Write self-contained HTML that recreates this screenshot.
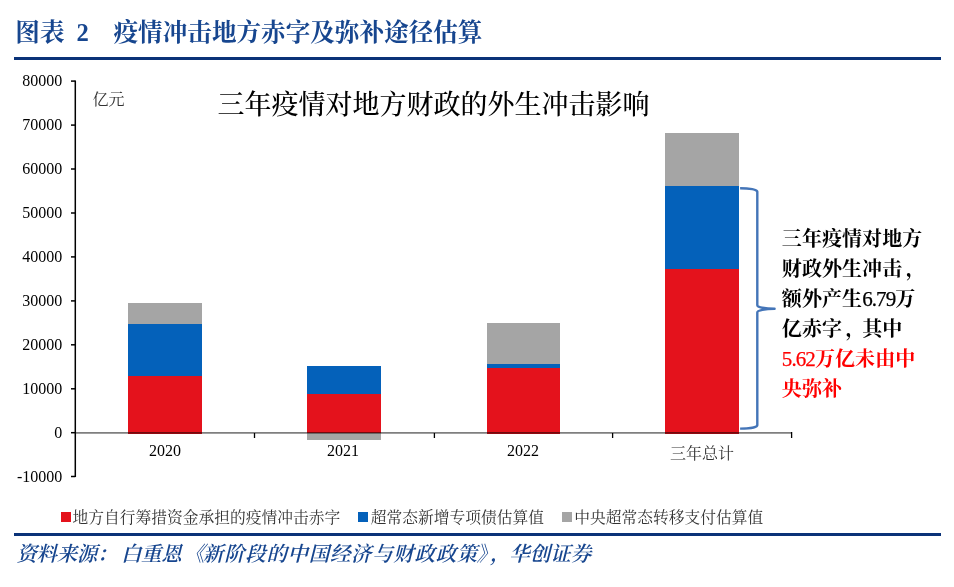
<!DOCTYPE html>
<html lang="zh-CN">
<head>
<meta charset="utf-8">
<title>图表 2 疫情冲击地方赤字及弥补途径估算</title>
<style>
html,body{margin:0;padding:0;background:#fff;}
body{width:954px;height:587px;position:relative;overflow:hidden;font-family:"Liberation Serif","Noto Serif CJK SC",serif;}
.abs{position:absolute;white-space:nowrap;line-height:1;}
.kai{font-family:"Liberation Serif","Noto Serif CJK SC",serif;}
.ttl{color:#17468f;font-weight:700;font-size:24.6px;top:21.3px;height:25px;}
.rule{position:absolute;left:14px;width:927px;height:3px;background:#0a3278;}
.ylab{font-size:16px;color:#000;text-align:right;width:52px;left:10.3px;margin-top:-0.5px;}
.xlab{font-size:16px;color:#000;text-align:center;width:80px;}
.leg{font-size:15.75px;color:#333;top:509.6px;}
.sq{position:absolute;width:10px;height:10px;top:512.4px;}
.ann{font-size:20px;font-weight:700;color:#000;left:781.8px;letter-spacing:0.08px;margin-top:1.2px;}
.ann .c{position:relative;left:3.5px;}
.ann .d{letter-spacing:-0.9px;font-weight:400;font-size:21px;line-height:20px;-webkit-text-stroke:0.25px currentColor;}
.red{color:#ff0000;}
.src{color:#17468f;font-style:italic;font-weight:600;font-size:20.5px;top:544px;}
</style>
</head>
<body>
<!-- header -->
<div class="abs kai ttl" style="left:15.3px;">图表</div>
<div class="abs kai ttl" style="left:76.5px;">2</div>
<div class="abs kai ttl" style="left:113.5px;letter-spacing:0;">疫情冲击地方赤字及弥补途径估算</div>
<div class="rule" style="top:57px;"></div>

<!-- chart graphics -->
<svg class="abs" style="left:0;top:0;" width="954" height="587" viewBox="0 0 954 587">
  <!-- bars -->
  <g shape-rendering="crispEdges">
  <rect x="128.2" y="376.4" width="73.8" height="57.6" fill="#e4121c"/>
  <rect x="128.2" y="323.7" width="73.8" height="52.7" fill="#0461ba"/>
  <rect x="128.2" y="303" width="73.8" height="20.7" fill="#a5a5a5"/>

  <rect x="307.2" y="393.7" width="74.2" height="40.3" fill="#e4121c"/>
  <rect x="307.2" y="365.9" width="74.2" height="27.8" fill="#0461ba"/>
  <rect x="307.2" y="433" width="74.2" height="6.9" fill="#a5a5a5"/>

  <rect x="486.6" y="367.8" width="73.6" height="66.2" fill="#e4121c"/>
  <rect x="486.6" y="363.8" width="73.6" height="4" fill="#0461ba"/>
  <rect x="486.6" y="323.4" width="73.6" height="40.4" fill="#a5a5a5"/>

  <rect x="665.1" y="268.6" width="73.8" height="165.4" fill="#e4121c"/>
  <rect x="665.1" y="186" width="73.8" height="82.6" fill="#0461ba"/>
  <rect x="665.1" y="133" width="73.8" height="53" fill="#a5a5a5"/>
  </g>
  <!-- x axis -->
  <line x1="75" y1="432.8" x2="792" y2="432.8" stroke="#000" stroke-opacity="0.5" stroke-width="1.7"/>
  <g stroke="#000" stroke-width="1.3">
    <line x1="254.5" y1="433" x2="254.5" y2="438"/>
    <line x1="434.4" y1="433" x2="434.4" y2="438"/>
    <line x1="612.6" y1="433" x2="612.6" y2="438"/>
    <line x1="791.6" y1="432" x2="791.6" y2="438"/>
  </g>
  <!-- y axis -->
  <g stroke="#000" stroke-width="1.5">
    <line x1="75.3" y1="80.5" x2="75.3" y2="477"/>
    <line x1="71" y1="81.1" x2="75.3" y2="81.1"/>
    <line x1="71" y1="125.1" x2="75.3" y2="125.1"/>
    <line x1="71" y1="169" x2="75.3" y2="169"/>
    <line x1="71" y1="213" x2="75.3" y2="213"/>
    <line x1="71" y1="256.9" x2="75.3" y2="256.9"/>
    <line x1="71" y1="300.9" x2="75.3" y2="300.9"/>
    <line x1="71" y1="344.8" x2="75.3" y2="344.8"/>
    <line x1="71" y1="388.8" x2="75.3" y2="388.8"/>
    <line x1="71" y1="432.7" x2="75.3" y2="432.7"/>
    <line x1="71" y1="476.5" x2="75.3" y2="476.5"/>
  </g>
  <!-- brace -->
  <path d="M740.1 188.2 A17.2 3.4 0 0 1 757.3 191.6 L757.3 305.2 A17.2 3.6 0 0 0 774.6 308.8 A17.2 3.6 0 0 0 757.3 312.4 L757.3 425.2 A17.2 3.4 0 0 1 740.1 428.6" fill="none" stroke="#4475b8" stroke-width="2.4" stroke-linejoin="round"/>
</svg>

<!-- y labels -->
<div class="abs ylab" style="top:73.5px;">80000</div>
<div class="abs ylab" style="top:117.5px;">70000</div>
<div class="abs ylab" style="top:161.4px;">60000</div>
<div class="abs ylab" style="top:205.4px;">50000</div>
<div class="abs ylab" style="top:249.3px;">40000</div>
<div class="abs ylab" style="top:293.3px;">30000</div>
<div class="abs ylab" style="top:337.2px;">20000</div>
<div class="abs ylab" style="top:381.2px;">10000</div>
<div class="abs ylab" style="top:425.1px;">0</div>
<div class="abs ylab" style="top:469px;">-10000</div>

<!-- x labels -->
<div class="abs xlab" style="left:125px;top:443.3px;">2020</div>
<div class="abs xlab" style="left:303px;top:443.3px;">2021</div>
<div class="abs xlab" style="left:483px;top:443.3px;">2022</div>
<div class="abs xlab" style="left:662px;top:445.8px;font-size:16px;color:#333;">三年总计</div>

<!-- unit + chart title -->
<div class="abs" style="left:92.5px;top:91.5px;font-size:16px;color:#333;">亿元</div>
<div class="abs kai" style="left:217.5px;top:91.5px;font-size:27px;font-weight:500;color:#000;">三年疫情对地方财政的外生冲击影响</div>

<!-- annotation -->
<div class="abs kai ann" style="top:228px;">三年疫情对地方</div>
<div class="abs kai ann" style="top:258px;">财政外生冲击<span class="c">，</span></div>
<div class="abs kai ann" style="top:288px;">额外产生<span class="d">6.79</span>万</div>
<div class="abs kai ann" style="top:318px;">亿赤字<span class="c">，</span>其中</div>
<div class="abs kai ann red" style="top:348px;"><span class="d">5.62</span>万亿未由中</div>
<div class="abs kai ann red" style="top:378px;">央弥补</div>

<!-- legend -->
<div class="sq" style="left:61px;background:#e4121c;"></div>
<div class="abs leg" style="left:72.6px;">地方自行筹措资金承担的疫情冲击赤字</div>
<div class="sq" style="left:358.3px;background:#0461ba;"></div>
<div class="abs leg" style="left:370.7px;">超常态新增专项债估算值</div>
<div class="sq" style="left:561.8px;background:#a5a5a5;"></div>
<div class="abs leg" style="left:574.2px;">中央超常态转移支付估算值</div>

<div class="rule" style="top:533px;"></div>

<!-- source -->
<div class="abs kai src" style="left:16.5px;letter-spacing:-0.4px;">资料来源：</div>
<div class="abs kai src" style="left:121px;letter-spacing:-0.4px;">白重恩</div>
<div class="abs kai src" style="left:184px;">《</div>
<div class="abs kai src" style="left:203px;letter-spacing:0.65px;">新阶段的中国经济与财政政策</div>
<div class="abs kai src" style="left:476.5px;">》</div>
<div class="abs kai src" style="left:490px;">，</div>
<div class="abs kai src" style="left:509.3px;">华创证券</div>
</body>
</html>
